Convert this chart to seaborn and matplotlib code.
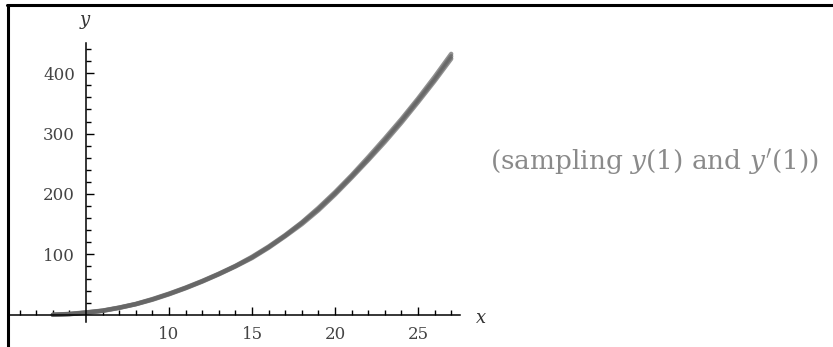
import numpy as np
import pandas as pd
import matplotlib
matplotlib.use("Agg")
import matplotlib.pyplot as plt
import seaborn as sns
from matplotlib.ticker import FixedLocator

x_vals = [3, 4, 5, 6, 7, 8, 9, 10, 11, 12, 13, 14, 15, 16, 17, 18, 19, 20,
          21, 22, 23, 24, 25, 26, 27]
y_upper = [0, 1.5, 4, 7, 12, 18, 26, 35, 45, 56, 68, 81, 96, 113, 132, 153,
           177, 203, 231, 261, 292, 324, 358, 394, 432]
y_mid = [0, 1.2, 3.7, 6.7, 11.7, 17.7, 25.5, 34.5, 44.5, 55.5, 67.5, 80.5,
         95, 112, 131, 152, 175, 201, 229, 258, 289, 321, 355, 390, 428]
y_lower = [0, 1, 3.5, 6.5, 11.5, 17.5, 25, 34, 44, 55, 67, 80, 94, 111, 130,
           150, 173, 199, 227, 256, 286, 318, 352, 387, 424]
x_major = [10, 15, 20, 25]
x_minor = [1, 2, 3, 4, 6, 7, 8, 9, 11, 12, 13, 14, 16, 17, 18, 19, 21, 22,
           23, 24, 26, 27]
y_major = [100, 200, 300, 400]
y_minor = [20, 40, 60, 80, 120, 140, 160, 180, 220, 240, 260, 280, 320, 340,
           360, 380, 420, 440]
note = "(sampling $y$(1) and $y'$(1))"

df = pd.concat([
    pd.DataFrame({"x": x_vals, "y": y_upper, "curve": "a"}),
    pd.DataFrame({"x": x_vals, "y": y_mid, "curve": "b"}),
    pd.DataFrame({"x": x_vals, "y": y_lower, "curve": "c"}),
])

sns.set_style("white")
plt.rcParams["font.family"] = ["DejaVu Serif"]
plt.rcParams["mathtext.fontset"] = "dejavuserif"

fig = plt.figure(figsize=(8.33, 3.47), dpi=100)
ax = fig.add_axes([10 / 833, 2 / 347, 450 / 833, 302 / 347])

sns.lineplot(data=df, x="x", y="y", units="curve", estimator=None,
             color="#646464", lw=3.2, alpha=0.7, ax=ax, legend=False)

ax.set_xlim(0.42, 27.53)
ax.set_ylim(-50, 450)

ax.spines["left"].set_position(("data", 5))
ax.spines["bottom"].set_position(("data", 0))
ax.spines["right"].set_visible(False)
ax.spines["top"].set_visible(False)
for s in ["left", "bottom"]:
    ax.spines[s].set_color("black")
    ax.spines[s].set_linewidth(1.1)
ax.spines["left"].set_bounds(-12, 450)
ax.spines["bottom"].set_bounds(0.42, 27.5)

ax.xaxis.set_major_locator(FixedLocator(x_major))
ax.xaxis.set_minor_locator(FixedLocator(x_minor))
ax.yaxis.set_major_locator(FixedLocator(y_major))
ax.yaxis.set_minor_locator(FixedLocator(y_minor))
ax.tick_params(axis="x", which="both", direction="in", color="black",
               width=1, labelsize=12, labelcolor="#444444", pad=8)
ax.tick_params(axis="y", which="both", direction="in", color="black",
               width=1, labelsize=12, labelcolor="#444444", pad=8)
ax.tick_params(which="major", length=6)
ax.tick_params(which="minor", length=3.5)
ax.xaxis.set_ticks_position("bottom")
ax.yaxis.set_ticks_position("left")
ax.set_xlabel("")
ax.set_ylabel("")

fig.text(86 / 833, 1 - 22 / 347, "$y$", fontsize=13, ha="center",
         va="center", color="#333333")
fig.text(481 / 833, 1 - 318 / 347, "$x$", fontsize=13, ha="center",
         va="center", color="#333333")
fig.text(490 / 833, 1 - 163 / 347, note, fontsize=19, ha="left",
         va="center", color="#8a8a8a")

# outer frame on top and left edges
fig.add_artist(plt.Line2D([8 / 833, 8 / 833], [0, 1 - 5 / 347],
                          transform=fig.transFigure, color="black", lw=2.2))
fig.add_artist(plt.Line2D([7 / 833, 1], [1 - 5 / 347, 1 - 5 / 347],
                          transform=fig.transFigure, color="black", lw=2.2))

fig.savefig("out.png", dpi=100)
